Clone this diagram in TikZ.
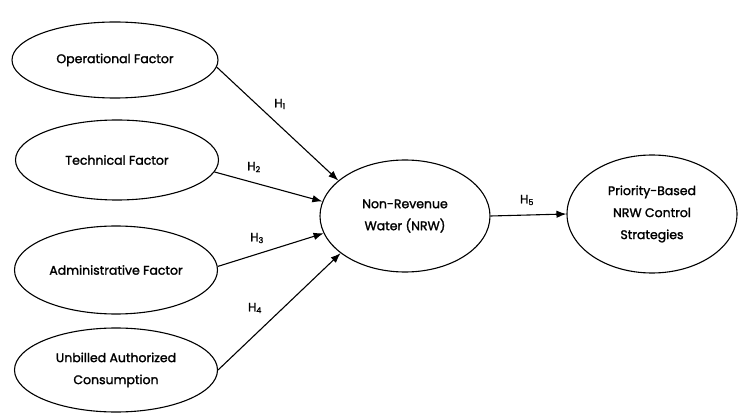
\documentclass[tikz,border=0pt]{standalone}
\usepackage{fontspec}
\setmainfont{Poppins}[FakeBold=1.6]
\usetikzlibrary{shapes.geometric,arrows.meta}

\begin{document}
\begin{tikzpicture}[
        x=1pt, y=-1pt,
        latent_var/.style={draw, ellipse, line width=1.1pt, inner sep=0pt, align=center, font=\fontsize{12.5}{22}\selectfont},
        path_arrow/.style={draw, line width=1.1pt, -{Latex[length=10pt,width=7.5pt]}},
        h_label/.style={font=\fontsize{12}{14}\selectfont}
        ]
    \useasboundingbox (0,0) rectangle (739,414);
    % exogenous factors
    \node[latent_var, minimum width=206pt, minimum height=76pt] (oper) at (115,60) {Operational Factor};
    \node[latent_var, minimum width=203pt, minimum height=80pt] (tech) at (117,160) {Technical Factor};
    \node[latent_var, minimum width=203pt, minimum height=88pt] (admin) at (116,270) {Administrative Factor};
    \node[latent_var, minimum width=203pt, minimum height=84pt] (unbilled) at (116,370) {Unbilled Authorized\\Consumption};
    % mediator and outcome
    \node[latent_var, minimum width=170pt, minimum height=112pt] (nrw) at (405,216) {Non-Revenue\\Water (NRW)};
    \node[latent_var, minimum width=170pt, minimum height=118pt] (prio) at (652,214) {Priority-Based\\NRW Control\\Strategies};
    % hypotheses
    \draw[path_arrow] (oper.-4) -- (nrw.152);
    \draw[path_arrow] (tech.-7) -- (nrw.170);
    \draw[path_arrow] (admin.2) -- (nrw.192);
    \draw[path_arrow] (unbilled.east) -- (nrw.210);
    \draw[path_arrow] (nrw.east) -- (prio.west);
    \node[h_label] (h1) at (280,104) {H\textsubscript{1}};
    \node[h_label] (h2) at (254,167) {H\textsubscript{2}};
    \node[h_label] (h3) at (257,238) {H\textsubscript{3}};
    \node[h_label] (h4) at (255,308) {H\textsubscript{4}};
    \node[h_label] (h5) at (527,200) {H\textsubscript{5}};
\end{tikzpicture}
\end{document}
